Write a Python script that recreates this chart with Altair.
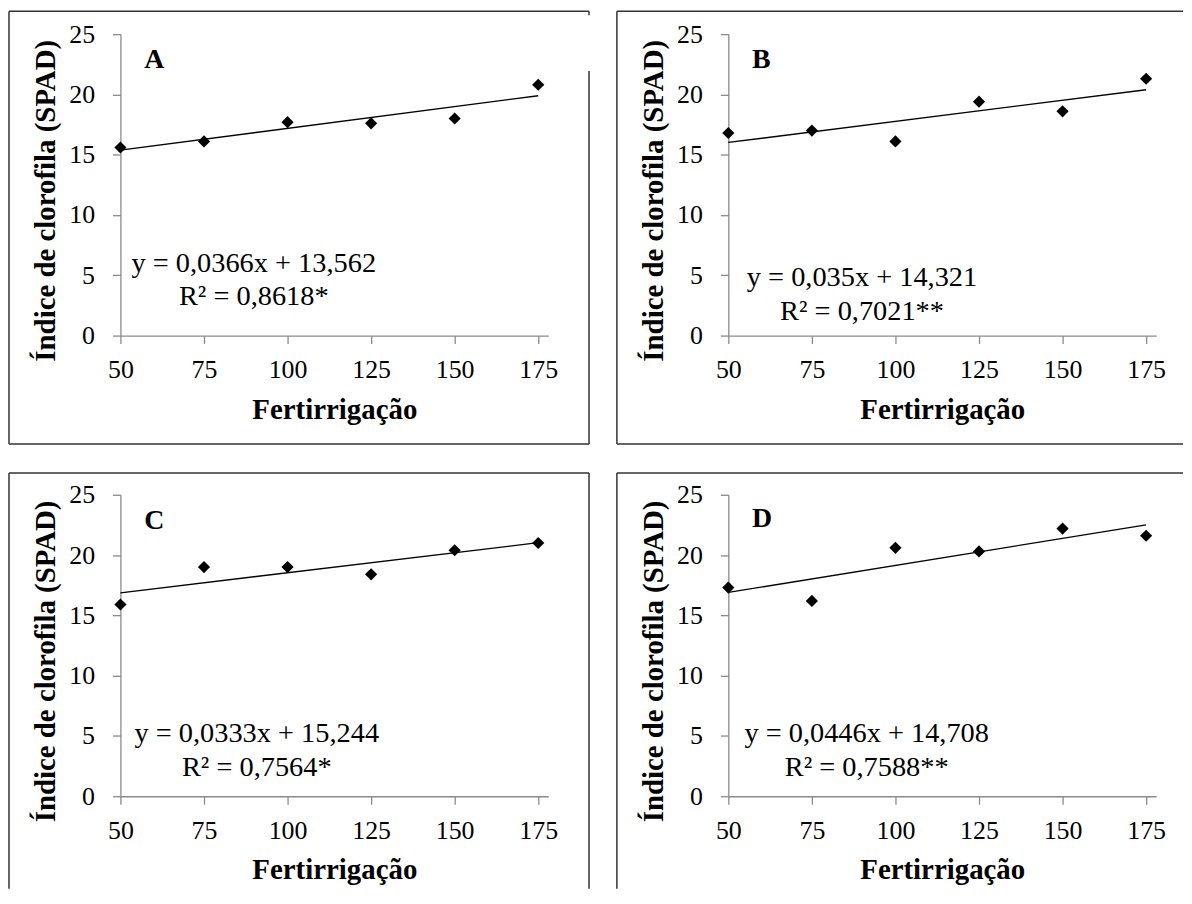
import altair as alt
import pandas as pd

# ---------------- data ----------------
fert = [50, 75, 100, 125, 150, 175]
spad_a = [15.6, 16.1, 17.7, 17.6, 18.0, 20.8]
spad_b = [16.8, 17.0, 16.1, 19.4, 18.6, 21.3]
spad_c = [15.9, 19.0, 19.0, 18.4, 20.4, 21.0]
spad_d = [17.3, 16.2, 20.6, 20.3, 22.2, 21.6]

letters = ["A", "B", "C", "D"]
eq_lines = ["y = 0,0366x + 13,562", "y = 0,035x + 14,321",
            "y = 0,0333x + 15,244", "y = 0,0446x + 14,708"]
r2_lines = ["R² = 0,8618*", "R² = 0,7021**", "R² = 0,7564*", "R² = 0,7588**"]

# annotation anchors (data units)
letter_x = [57.1, 57.1, 57.1, 57.1]
letter_y = [22.2, 22.2, 22.2, 22.3]
eq_x = [89.9, 90.0, 90.8, 91.4]
eq_y1 = [5.28, 4.13, 4.46, 4.46]
eq_y2 = [2.56, 1.32, 1.65, 1.65]

y_ticks = [0, 5, 10, 15, 20, 25]
x_title = "Fertirrigação"
y_title = "Índice de clorofila (SPAD)"

FONT = "'Liberation Serif', 'Times New Roman', Times, serif"
W, H = 430, 303
BOX = "#333333"


def rule(x=None, x2=None, y=None, y2=None):
    enc = {}
    if x is not None:
        enc["x"] = alt.value(x)
    if x2 is not None:
        enc["x2"] = alt.value(x2)
    if y is not None:
        enc["y"] = alt.value(y)
    if y2 is not None:
        enc["y2"] = alt.value(y2)
    return alt.Chart(alt.Data(values=[{}])).mark_rule(
        color=BOX, strokeWidth=1.5).encode(**enc)


def panel(i, values, box_rules):
    xs = alt.X("x:Q", title=x_title,
               scale=alt.Scale(domain=[50, 178], nice=False, zero=False),
               axis=alt.Axis(values=fert, grid=False, domainColor="#8a8a8a",
                             tickColor="#8a8a8a", tickSize=8, domainWidth=1.3,
                             tickWidth=1.3, labelFont=FONT, labelFontSize=26,
                             labelColor="black", labelPadding=13,
                             labelFlush=False, titleFont=FONT,
                             titleFontSize=29, titleFontWeight="bold",
                             titleColor="black", titlePadding=13))
    ys = alt.Y("y:Q", title=y_title,
               scale=alt.Scale(domain=[0, 25], nice=False),
               axis=alt.Axis(values=y_ticks, grid=False, domainColor="#8a8a8a",
                             tickColor="#8a8a8a", tickSize=8, domainWidth=1.3,
                             tickWidth=1.3, labelFont=FONT, labelFontSize=26,
                             labelColor="black", labelPadding=18,
                             titleFont=FONT, titleFontSize=29,
                             titleFontWeight="bold", titleColor="black",
                             titlePadding=8, titleY=167))
    df = pd.DataFrame({"x": fert, "y": values})
    base = alt.Chart(df)
    pts = base.mark_point(shape="diamond", filled=True, size=150,
                          color="black", opacity=1).encode(x=xs, y=ys)
    line = base.transform_regression("x", "y", extent=[50, 175]).mark_line(
        color="black", strokeWidth=1.3).encode(x=xs, y=ys)
    let_df = pd.DataFrame({"x": [letter_x[i]], "y": [letter_y[i]],
                           "t": [letters[i]]})
    let = alt.Chart(let_df).mark_text(
        font=FONT, fontSize=28, fontWeight="bold", align="left",
        baseline="alphabetic", color="black").encode(x=xs, y=ys, text="t:N")
    eq_df = pd.DataFrame({"x": [eq_x[i], eq_x[i]],
                          "y": [eq_y1[i], eq_y2[i]],
                          "t": [eq_lines[i], r2_lines[i]]})
    eq = alt.Chart(eq_df).mark_text(
        font=FONT, fontSize=28.5, align="center", baseline="alphabetic",
        color="black").encode(x=xs, y=ys, text="t:N")
    return alt.layer(*box_rules, line, pts, let, eq).properties(
        width=W, height=H)


box_a = [rule(x=-112, x2=471, y=-23), rule(x=-112, y=-23, y2=412),
         rule(x=-112, x2=471, y=412), rule(x=471, y=37, y2=412),
         rule(x=471, y=-23, y2=-19)]
box_b = [rule(x=-112, x2=457, y=-23), rule(x=-112, y=-23, y2=412),
         rule(x=-112, x2=457, y=412)]
box_c = [rule(x=-112, x2=471, y=-22), rule(x=-112, y=-22, y2=396),
         rule(x=471, y=-22, y2=396)]
box_d = [rule(x=-112, x2=457, y=-22), rule(x=-112, y=-22, y2=396)]

pa = panel(0, spad_a, box_a)
pb = panel(1, spad_b, box_b)
pc = panel(2, spad_c, box_c)
pd_ = panel(3, spad_d, box_d)

chart = alt.concat(pa, pb, pc, pd_, columns=2,
                   spacing={"row": 160, "column": 181},
                   bounds="flush").properties(
    padding=0, background="white"
).configure_view(stroke=None)

chart.save("out.html", embed_options={"renderer": "svg", "actions": False})
